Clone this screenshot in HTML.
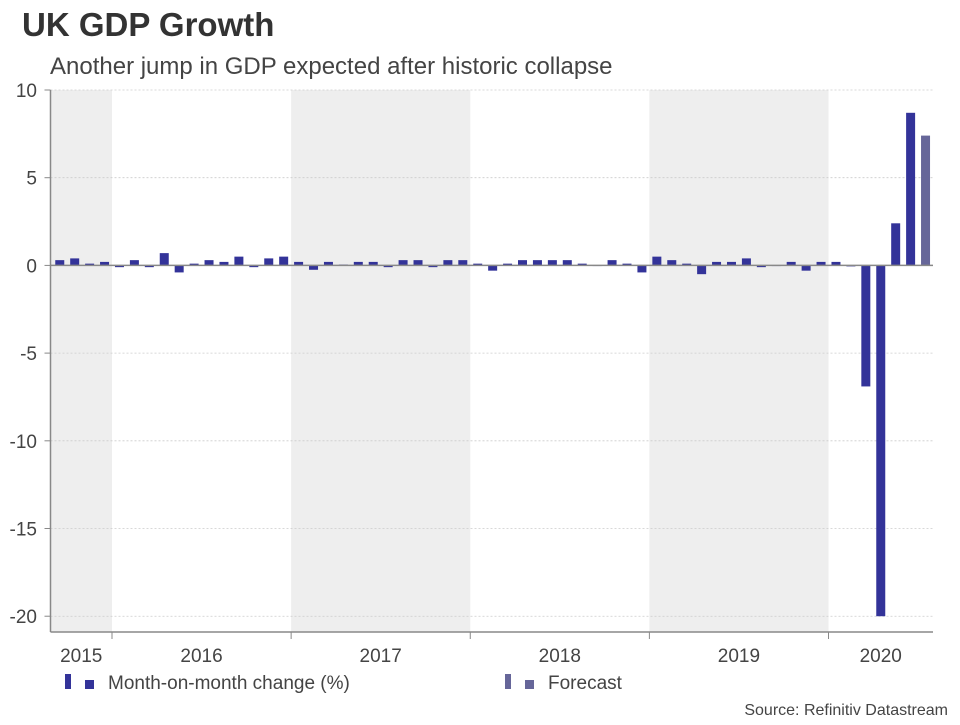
<!DOCTYPE html>
<html><head><meta charset="utf-8"><style>
body{margin:0;background:#fff;font-family:"Liberation Sans",Arial,sans-serif}
svg text{font-family:"Liberation Sans",Arial,sans-serif}
</style></head><body>
<svg id="c" width="960" height="720" xmlns="http://www.w3.org/2000/svg">
<text x="22" y="36" font-size="33" font-weight="bold" fill="#333">UK GDP Growth</text>
<text x="50" y="74" font-size="24" fill="#444">Another jump in GDP expected after historic collapse</text>
<g id="bands"></g><g id="grid"></g><g id="bars"></g><g id="axes"></g>
<g>
<rect x="65" y="674" width="6" height="15" fill="#333399"/>
<rect x="85" y="680" width="9" height="9" fill="#333399"/>
<text x="108" y="689" font-size="19" fill="#444">Month-on-month change (%)</text>
<rect x="505" y="674" width="6" height="15" fill="#666699"/>
<rect x="525" y="680" width="9" height="9" fill="#666699"/>
<text x="548" y="689" font-size="19" fill="#444">Forecast</text>
</g>
<text x="948" y="715" font-size="16" fill="#444" text-anchor="end">Source: Refinitiv Datastream</text>
</svg>
<script>
const years = ["2015","2016","2017","2018","2019","2020"];
const monthsPerYear = [4,12,12,12,12,7];
const values = [0.3,0.4,0.1,0.2,-0.1,0.3,-0.1,0.7,-0.4,0.1,0.3,0.2,0.5,-0.1,0.4,0.5,0.2,-0.25,0.2,0.05,0.2,0.2,-0.1,0.3,0.3,-0.1,0.3,0.3,0.1,-0.3,0.1,0.3,0.3,0.3,0.3,0.1,0.02,0.3,0.1,-0.4,0.5,0.3,0.1,-0.5,0.2,0.2,0.4,-0.1,0.02,0.2,-0.3,0.2,0.2,-0.05,-6.9,-20,2.4,8.7,7.4];
const isForecast = values.map((v,i)=>i===values.length-1);
const yTicks = [10,5,0,-5,-10,-15,-20];
const NS="http://www.w3.org/2000/svg";
const L=50.5,R=933,T=90,B=632,X0=52.3;
const yMin=-20.9,yMax=10;
const y=v=>T+(yMax-v)/(yMax-yMin)*(B-T);
const n=values.length;const step=(R-X0)/n;
const x=i=>X0+step*i;
function mk(tag,attrs,parent){const e=document.createElementNS(NS,tag);for(const k in attrs)e.setAttribute(k,attrs[k]);document.getElementById(parent).appendChild(e);return e;}
let idx=0;
years.forEach((yr,k)=>{
  const x0=k===0?L:x(idx),x1=x(idx+monthsPerYear[k]);
  if(k%2===0){const r=mk('rect',{x:x0,y:T,width:x1-x0,height:B-T,fill:'#eeeeee'},'bands');
    
    }
  const t=mk('text',{x:(x0+x1)/2,y:662,'font-size':19,fill:'#444','text-anchor':'middle'},'axes');t.textContent=yr;
  
  
  if(k>0){const tk=mk('line',{x1:x0,x2:x0,y1:B,y2:B+7,stroke:'#888'},'axes');
    
    }
  idx+=monthsPerYear[k];
});
yTicks.forEach(v=>{
  const g=mk('line',{x1:L,x2:R,y1:y(v),y2:y(v),stroke:'#ccc','stroke-dasharray':'2,2','stroke-width':0.8},'grid');
  
  
  const tk=mk('line',{x1:L-6,x2:L,y1:y(v),y2:y(v),stroke:'#888'},'axes');
  
  
  const t=mk('text',{x:37,y:y(v)+7,'font-size':19,fill:'#444','text-anchor':'end'},'axes');t.textContent=v;
  
  
});
values.forEach((v,i)=>{
  const bw=9,cx=x(i)+step/2;
  const r=mk('rect',{x:cx-bw/2,y:Math.min(y(v),y(0)),width:bw,height:Math.max(Math.abs(y(v)-y(0)),1),fill:isForecast[i]?'#666699':'#333399'},'bars');
  
  
});
const z=mk('line',{x1:L,x2:R,y1:y(0),y2:y(0),stroke:'#888','stroke-width':1.5},'axes');


const ya=mk('line',{x1:L,x2:L,y1:T,y2:B,stroke:'#888','stroke-width':1.5},'axes');


const xa=mk('line',{x1:L,x2:R,y1:B,y2:B,stroke:'#888','stroke-width':1.5},'axes');


</script>
</body></html>
